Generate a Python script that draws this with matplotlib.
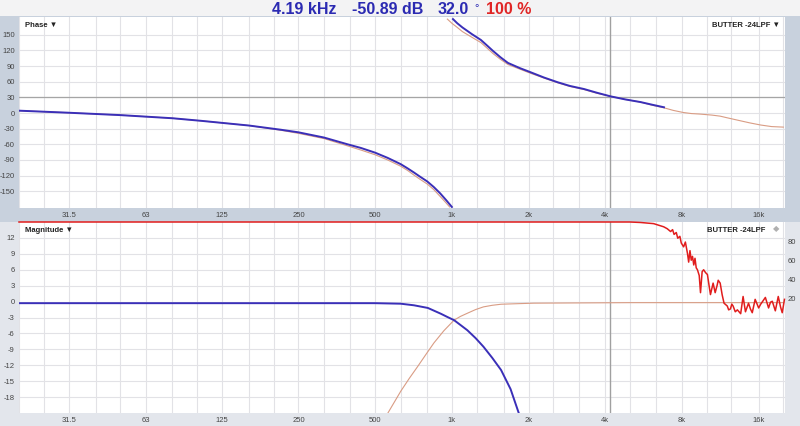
import numpy as np
import matplotlib.pyplot as plt
from matplotlib.patches import Rectangle
from matplotlib.ticker import NullFormatter

plt.rcParams['font.family'] = ['Liberation Sans', 'DejaVu Sans']
plt.rcParams['axes.unicode_minus'] = False

# ---- data ----
tick_freqs = [31.5, 63, 125, 250, 500, 1000, 2000, 4000, 8000, 16000]
tick_names = ['31.5', '63', '125', '250', '500', '1k', '2k', '4k', '8k', '16k']
third_oct = [20, 25, 31.5, 40, 50, 63, 80, 100, 125, 160, 200, 250, 315, 400, 500,
             630, 800, 1000, 1250, 1600, 2000, 2500, 3150, 4000, 5000, 6300, 8000,
             10000, 12500, 16000, 20000]
phase_ticks = [150, 120, 90, 60, 30, 0, -30, -60, -90, -120, -150]
mag_ticks = [12, 9, 6, 3, 0, -3, -6, -9, -12, -15, -18]
coh_ticks = [20, 40, 60, 80]

# phase, model trace (blue), two wrapped branches
blue_ph1_f = [20, 31.5, 50, 80, 104, 160, 213, 250, 315, 390, 440, 500, 560, 630, 670,
              710, 750, 800, 850, 900, 950, 1000]
blue_ph1 = [4.5, 0.5, -4, -10, -15, -24, -32, -37, -47, -60, -67, -76, -86, -98, -106,
            -114, -122, -131, -142, -154, -167, -180]
blue_ph2_f = [1010, 1050, 1100, 1200, 1300, 1370, 1450, 1550, 1660, 1850, 2040, 2300,
              2600, 2900, 3300, 3700, 4190, 4800, 5500, 6100, 6800]
blue_ph2 = [180, 172, 164, 151, 140, 130, 119, 107, 96, 86, 78, 68,
            59, 52, 46, 39, 32, 26, 21, 16, 11]

# phase, measured trace (salmon)
sal_ph1_f = [20, 31.5, 50, 80, 104, 160, 213, 250, 315, 390, 440, 500, 560, 630, 670,
             710, 750, 800, 850, 900, 940, 980]
sal_ph1 = [4.5, 0.5, -4, -10, -15, -24, -33, -39, -49, -63, -71, -80, -90, -102, -110,
           -119, -127, -136, -147, -160, -170, -180]
sal_ph2_f = [960, 1000, 1050, 1100, 1200, 1300, 1370, 1450, 1550, 1660, 1850, 2040, 2300,
             2600, 2900, 3300, 3700, 4190, 4800, 5500, 6100, 6800, 7400, 8100, 8700,
             9400, 10500, 11300, 12000, 13600, 14800, 16300, 18000, 20000]
sal_ph2 = [180, 172, 164, 156, 145, 135, 125, 114, 103, 93, 84, 76, 67,
           58, 51, 45, 38, 32, 26, 21, 15, 10, 5, 1, -1,
           -2, -4, -6, -9, -15, -19, -23, -26, -27]

# magnitude
blue_mag_f = [20, 100, 500, 630, 710, 805, 906, 960, 1020, 1080, 1150, 1240, 1330, 1440,
              1560, 1700, 1830, 2000]
blue_mag = [-0.3, -0.3, -0.3, -0.4, -0.7, -1.2, -2.3, -2.9, -3.5, -4.4, -5.4, -6.9, -8.5,
            -10.6, -12.9, -16.5, -21, -24]
sal_mag_f = [500, 561, 630, 680, 735, 790, 850, 930, 1020, 1080, 1150, 1240, 1330, 1440,
             1560, 1800, 2100, 5000, 20000]
sal_mag = [-25, -21, -16.9, -14.5, -12.2, -10, -7.8, -5.5, -3.5, -2.8, -2.2, -1.5, -1.0,
           -0.7, -0.5, -0.4, -0.3, -0.2, -0.2]

# coherence (%)
coh_f = [20, 5000, 5500, 6190, 6780, 7000, 7220, 7350, 7450, 7600, 7700, 7850, 7950,
         8120, 8250, 8410, 8500, 8600, 8700, 8800, 8900, 9000, 9100, 9200, 9350, 9460,
         9600, 9730, 9900, 10070, 10200, 10350, 10600, 10800, 11000, 11100, 11300,
         11500, 11700, 12050, 12200, 12400, 12550, 12700, 12950, 13200, 13600, 13900,
         14200, 14600, 14850, 15100, 15500, 16000, 16300, 16600, 17000, 17500, 17800,
         18100, 18600, 19100, 19500, 19800, 20200]
coh = [100, 100, 99.5, 98.3, 95, 93, 90, 92, 87, 89, 83, 85, 78,
       74, 79, 67, 58, 70, 60, 64, 55, 62, 52, 50, 44, 26,
       48, 50, 47, 45, 35, 24, 36, 26, 34, 39, 36,
       24, 15, 12, 8, 9, 14, 12, 6, 8, 4, 22,
       6, 15, 9, 5, 19, 10, 14, 17, 21, 10, 16,
       17, 7, 22, 11, 5, 19]

cursor_f = 4190
cursor_ph = 30

BLUE = '#3a2fb8'
SALMON = '#d99c84'
RED = '#e11d1d'
GRID = '#e2e2e6'
STRIP = '#c8d1dd'
LIGHT = '#e3e6ec'
TXT = '#444444'

W, H = 800, 426
fig = plt.figure(figsize=(8, 4.26), dpi=100, facecolor=STRIP)

def px(x0, y0, x1, y1):
    return [x0 / W, 1 - y1 / H, (x1 - x0) / W, (y1 - y0) / H]

# background regions
fig.patches.append(Rectangle((0, 1 - 16 / H), 1, 16 / H, transform=fig.transFigure,
                             facecolor='#f3f3f4', edgecolor='none', zorder=-5))
fig.patches.append(Rectangle((0, 0), 1, 1 - 222 / H, transform=fig.transFigure,
                             facecolor=LIGHT, edgecolor='none', zorder=-5))

ax1 = fig.add_axes(px(19, 17, 785, 208))
ax2 = fig.add_axes(px(19, 222, 785, 413))
ax3 = ax2.twinx()

for ax in (ax1, ax2):
    ax.set_xscale('log')
    ax.set_xlim(20, 20300)
    ax.set_facecolor('white')
    ax.set_xticks(tick_freqs)
    ax.set_xticklabels(tick_names)
    ax.set_xticks([f for f in third_oct if f not in tick_freqs], minor=True)
    ax.xaxis.set_minor_formatter(NullFormatter())
    ax.tick_params(axis='x', which='both', length=0, labelsize=5.5, colors=TXT, pad=3)
    ax.tick_params(axis='y', length=0, labelsize=5.5, colors=TXT, pad=3)
    ax.grid(True, which='both', color=GRID, lw=0.8)
    ax.set_axisbelow(True)
    for s in ax.spines.values():
        s.set_visible(False)

# phase panel
ax1.set_ylim(-182, 184)
ax1.set_yticks(phase_ticks)
ax1.axhline(cursor_ph, color='#a5a5a5', lw=0.9, zorder=1)
ax1.axvline(cursor_f, color='#a0a0a0', lw=1.0, zorder=1)
ax1.plot(sal_ph1_f, sal_ph1, color=SALMON, lw=0.8, zorder=2)
ax1.plot(sal_ph2_f, sal_ph2, color=SALMON, lw=0.8, zorder=2)
ax1.plot(blue_ph1_f, blue_ph1, color=BLUE, lw=1.4, zorder=3)
ax1.plot(blue_ph2_f, blue_ph2, color=BLUE, lw=1.4, zorder=3)
ax1.text(0.008, 0.975, 'Phase \u25bc', transform=ax1.transAxes, fontsize=5.5,
         fontweight='bold', color='#222222', va='top', ha='left')
ax1.text(0.993, 0.975, 'BUTTER -24LPF \u25bc', transform=ax1.transAxes, fontsize=5.5,
         fontweight='bold', color='#222222', va='top', ha='right')

# magnitude panel
ax2.set_ylim(-21, 15)
ax2.set_yticks(mag_ticks)
ax2.axvline(cursor_f, color='#a0a0a0', lw=1.0, zorder=1)
ax2.plot(sal_mag_f, sal_mag, color=SALMON, lw=0.8, zorder=2)
ax2.plot(blue_mag_f, blue_mag, color=BLUE, lw=1.4, zorder=3)
ax2.text(0.008, 0.975, 'Magnitude \u25bc', transform=ax2.transAxes, fontsize=5.5,
         fontweight='bold', color='#222222', va='top', ha='left')
ax2.text(0.975, 0.975, 'BUTTER -24LPF', transform=ax2.transAxes, fontsize=5.5,
         fontweight='bold', color='#222222', va='top', ha='right')
ax2.text(0.993, 0.98, '\u25c6', transform=ax2.transAxes, fontsize=6,
         color='#b0b0b0', va='top', ha='right')

# coherence on right axis
ax3.set_ylim(-100, 100)
ax3.set_yticks(coh_ticks)
ax3.tick_params(axis='y', length=0, labelsize=5.5, colors=TXT, pad=2)
for s in ax3.spines.values():
    s.set_visible(False)
ax3.plot(coh_f, coh, color=RED, lw=1.1, zorder=4, clip_on=False)
ax3.set_xlim(20, 20300)

# header readout
hy = 1 - 10 / H
fig.text(272 / W, hy, '4.19 kHz', color='#2b2ab2', fontsize=11.5, fontweight='bold',
         va='center', ha='left')
fig.text(352 / W, hy, '-50.89 dB', color='#2b2ab2', fontsize=11.5, fontweight='bold',
         va='center', ha='left')
fig.text(438 / W, hy, '32.0', color='#2b2ab2', fontsize=11.5, fontweight='bold',
         va='center', ha='left')
fig.text(474 / W, hy + 0.004, '\u00b0', color='#2b2ab2', fontsize=8, va='center', ha='left')
fig.text(486 / W, hy, '100 %', color='#e02626', fontsize=11.5, fontweight='bold',
         va='center', ha='left')

fig.savefig('out.png', dpi=100, facecolor=fig.get_facecolor())
